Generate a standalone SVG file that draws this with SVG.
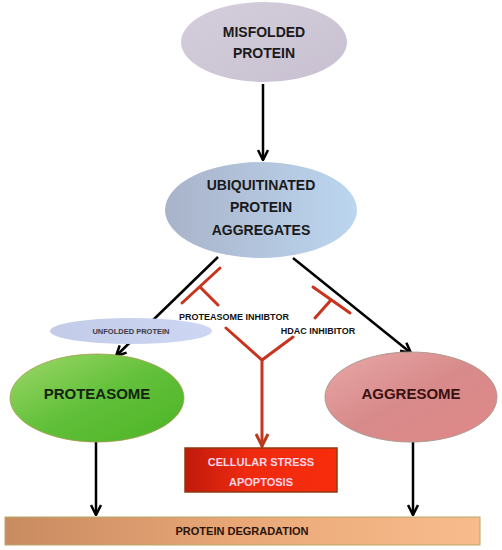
<svg xmlns="http://www.w3.org/2000/svg" width="502" height="550" viewBox="0 0 502 550">
<defs>
<style>
text{font-family:"Liberation Sans",Arial,sans-serif;font-weight:bold;text-anchor:middle}
.blk{stroke:#000;stroke-width:2.5;fill:none}
.red{stroke:#c8341e;stroke-width:3;fill:none;stroke-linecap:round}
</style>
<linearGradient id="gMis" x1="0" y1="0" x2="1" y2="1"><stop offset="0" stop-color="#d4cedc"/><stop offset="1" stop-color="#c8c0d0"/></linearGradient>
<linearGradient id="gUbi" x1="0" y1="0" x2="1" y2="0"><stop offset="0" stop-color="#a9b3c9"/><stop offset="1" stop-color="#bcd6f0"/></linearGradient>
<linearGradient id="gUnf" x1="0" y1="0" x2="1" y2="0"><stop offset="0" stop-color="#c2cbe8"/><stop offset="1" stop-color="#cdd6f2"/></linearGradient>
<linearGradient id="gPro" x1="0" y1="0" x2="1" y2="1"><stop offset="0" stop-color="#9fd86a"/><stop offset="0.5" stop-color="#62c03a"/><stop offset="1" stop-color="#4cb424"/></linearGradient>
<linearGradient id="gAgg" x1="0" y1="0" x2="1" y2="1"><stop offset="0" stop-color="#e8a8a8"/><stop offset="0.5" stop-color="#d88a8a"/><stop offset="1" stop-color="#e08888"/></linearGradient>
<linearGradient id="gDeg" x1="0" y1="0" x2="1" y2="0"><stop offset="0" stop-color="#c88a60"/><stop offset="0.5" stop-color="#eaa878"/><stop offset="1" stop-color="#f8bc8c"/></linearGradient>
<linearGradient id="gApo" x1="0" y1="0" x2="1" y2="0"><stop offset="0" stop-color="#c01a0c"/><stop offset="0.4" stop-color="#ee2a10"/><stop offset="1" stop-color="#f82c0c"/></linearGradient>
<marker id="aBlk" viewBox="0 0 10 10" refX="9" refY="5" markerWidth="5" markerHeight="5" orient="auto" markerUnits="strokeWidth"><path d="M1,1 L9,5 L1,9" fill="none" stroke="#000" stroke-width="2"/></marker>
<marker id="aRed" viewBox="0 0 10 10" refX="9" refY="5" markerWidth="5" markerHeight="5" orient="auto" markerUnits="strokeWidth"><path d="M1,1 L9,5 L1,9" fill="none" stroke="#b83a1c" stroke-width="2"/></marker>
</defs>
<g id="connectors">
<line class="blk" x1="263" y1="84" x2="263" y2="160" marker-end="url(#aBlk)"/>
<line class="blk" x1="218" y1="257" x2="116" y2="356" marker-end="url(#aBlk)"/>
<line class="blk" x1="293" y1="258" x2="411" y2="353" marker-end="url(#aBlk)"/>
<line class="blk" x1="96" y1="442" x2="96" y2="515" marker-end="url(#aBlk)"/>
<line class="blk" x1="413" y1="442" x2="413" y2="515" marker-end="url(#aBlk)"/>
<line class="red" x1="220" y1="268" x2="182" y2="303"/>
<line class="red" x1="200" y1="287" x2="218" y2="305"/>
<line class="red" x1="313" y1="287" x2="350" y2="313"/>
<line class="red" x1="331" y1="300" x2="315" y2="318"/>
<polyline class="red" points="226,328 262,360 293,337"/>
<line class="red" x1="262" y1="360" x2="262" y2="446" marker-end="url(#aRed)"/>
</g>
<g id="misfolded">
<ellipse cx="264" cy="42" rx="83" ry="40" fill="url(#gMis)"/>
<text x="264" y="37" font-size="14" fill="#1a1a1a">MISFOLDED</text>
<text x="264" y="58" font-size="14" fill="#1a1a1a">PROTEIN</text>
</g>
<g id="ubiquitinated">
<ellipse cx="261" cy="210" rx="96" ry="48" fill="url(#gUbi)"/>
<text x="261" y="190" font-size="14" fill="#1a1a1a">UBIQUITINATED</text>
<text x="261" y="212" font-size="14" fill="#1a1a1a">PROTEIN</text>
<text x="261" y="235" font-size="14" fill="#1a1a1a">AGGREGATES</text>
</g>
<g id="unfolded">
<ellipse cx="131" cy="331" rx="81" ry="13" fill="url(#gUnf)"/>
<text x="131" y="334" font-size="7.5" fill="#3a3a48">UNFOLDED PROTEIN</text>
</g>
<g id="inhibitors">
<text x="234" y="320" font-size="9" fill="#111">PROTEASOME INHIBTOR</text>
<text x="318" y="334" font-size="9" fill="#111">HDAC INHIBITOR</text>
</g>
<g id="proteasome">
<ellipse cx="97" cy="398" rx="87" ry="44" fill="url(#gPro)" stroke="#a89a50" stroke-width="0.8"/>
<text x="97" y="399" font-size="15" fill="#13240f">PROTEASOME</text>
</g>
<g id="aggresome">
<ellipse cx="411" cy="397" rx="86" ry="45" fill="url(#gAgg)" stroke="#b09a90" stroke-width="1"/>
<text x="411" y="399" font-size="15" fill="#3a1010">AGGRESOME</text>
</g>
<g id="apoptosis">
<rect x="185" y="448" width="152" height="44" fill="url(#gApo)" stroke="#8a3a10" stroke-width="1.5"/>
<text x="261" y="466" font-size="11" fill="#ffd6e6">CELLULAR STRESS</text>
<text x="261" y="486" font-size="11" fill="#ffd6e6">APOPTOSIS</text>
</g>
<g id="degradation">
<rect x="5" y="517" width="475" height="28" fill="url(#gDeg)" stroke="#b8a868" stroke-width="1"/>
<text x="242" y="535" font-size="11" fill="#2a140a">PROTEIN DEGRADATION</text>
</g>
</svg>
